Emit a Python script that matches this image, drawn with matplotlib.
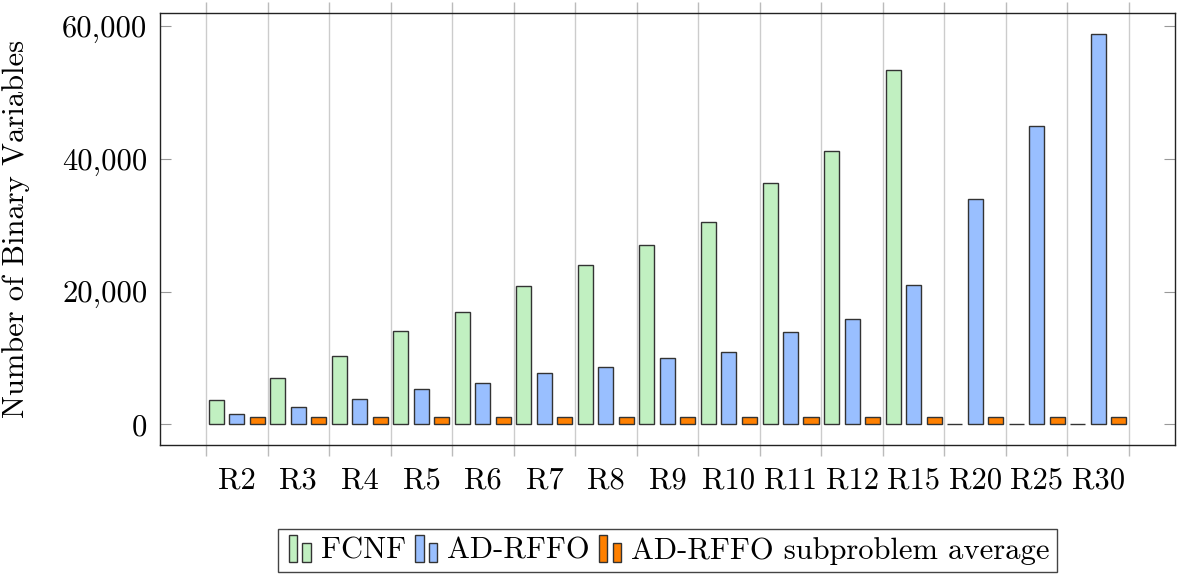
import matplotlib
matplotlib.use('Agg')
import matplotlib.pyplot as plt
import matplotlib.patches as mpatches
from matplotlib.legend_handler import HandlerBase
from matplotlib.ticker import FuncFormatter
import numpy as np

# values
categories = ['R2', 'R3', 'R4', 'R5', 'R6', 'R7', 'R8', 'R9', 'R10',
              'R11', 'R12', 'R15', 'R20', 'R25', 'R30']
fcnf = [3660, 6930, 10250, 14000, 16880, 20840, 23960, 26980, 30540,
        36450, 41190, 53400, 0, 0, 0]
adrffo = [1550, 2560, 3810, 5270, 6180, 7780, 8680, 10040, 10940,
          13860, 15870, 20950, 33900, 44950, 58900]
subproblem = [1050, 1050, 1050, 1050, 1050, 1050, 1050, 1050, 1050,
              1050, 1050, 1050, 1050, 1050, 1050]
series_names = ['FCNF', 'AD-RFFO', 'AD-RFFO subproblem average']

colors = ['#c1f0c1', '#99bfff', '#ff8000']
edge = '#333333'

plt.rcParams['font.family'] = 'cmr10'
plt.rcParams['axes.formatter.use_mathtext'] = True
plt.rcParams['font.size'] = 22

fig = plt.figure(figsize=(11.77, 5.79), dpi=100)
ax = fig.add_axes([0.1359, 0.2314, 0.8624, 0.7461])

x = np.arange(len(categories))
w = 0.244
off = 0.333
for vals, dx, c, name in zip([fcnf, adrffo, subproblem], [-off, 0, off], colors, series_names):
    ax.bar(x + dx, vals, width=w, color=c, edgecolor=edge, linewidth=1.0, label=name, zorder=3)

ax.set_xlim(-1.25, 15.25)
ax.set_ylim(-3120, 62000)

# boundaries between groups carry ticks and grid; labels sit in the middle
bounds = np.arange(len(categories) + 1) - 0.5
ax.set_xticks(bounds)
ax.set_xticklabels([''] * len(bounds))
ax.set_xticks(x, minor=True)
ax.set_xticklabels(categories, minor=True)
ax.tick_params(axis='x', which='major', direction='out', length=8, color='#bbbbbb',
               top=True, bottom=True, width=1)
ax.tick_params(axis='x', which='minor', length=0, pad=16)
ax.grid(axis='x', which='major', color='#cccccc', linewidth=1, zorder=0)

ax.set_yticks([0, 20000, 40000, 60000])
ax.yaxis.set_major_formatter(FuncFormatter(lambda v, p: f'{int(v):,}'))
ax.tick_params(axis='y', direction='in', length=8, color='#999999', left=True, right=True, pad=9)

for s in ax.spines.values():
    s.set_color('#222222')
    s.set_linewidth(1)

ax.set_ylabel('Number of Binary Variables')
ax.yaxis.set_label_coords(-0.128, 0.5)


class TwoBars(HandlerBase):
    def create_artists(self, legend, orig_handle, xdescent, ydescent, width, height, fontsize, trans):
        fc = orig_handle.get_facecolor()
        bw = width * 0.28
        b1 = mpatches.Rectangle((-xdescent + width * 0.1, -ydescent - height * 0.15), bw, height * 1.25,
                                facecolor=fc, edgecolor=edge, lw=1, transform=trans)
        b2 = mpatches.Rectangle((-xdescent + width * 0.55, -ydescent - height * 0.15), bw, height * 0.9,
                                facecolor=fc, edgecolor=edge, lw=1, transform=trans)
        return [b1, b2]


handles = [mpatches.Patch(facecolor=c) for c in colors]
leg = ax.legend(handles, series_names, loc='upper center', bbox_to_anchor=(0.5, -0.195), ncol=3,
                handler_map={mpatches.Patch: TwoBars()}, handlelength=1.0, handletextpad=0.15,
                columnspacing=0.2, borderpad=0.25, fancybox=False, framealpha=1,
                edgecolor='#444444', borderaxespad=0)
leg.get_frame().set_linewidth(1)

fig.savefig('out.png', dpi=100)
